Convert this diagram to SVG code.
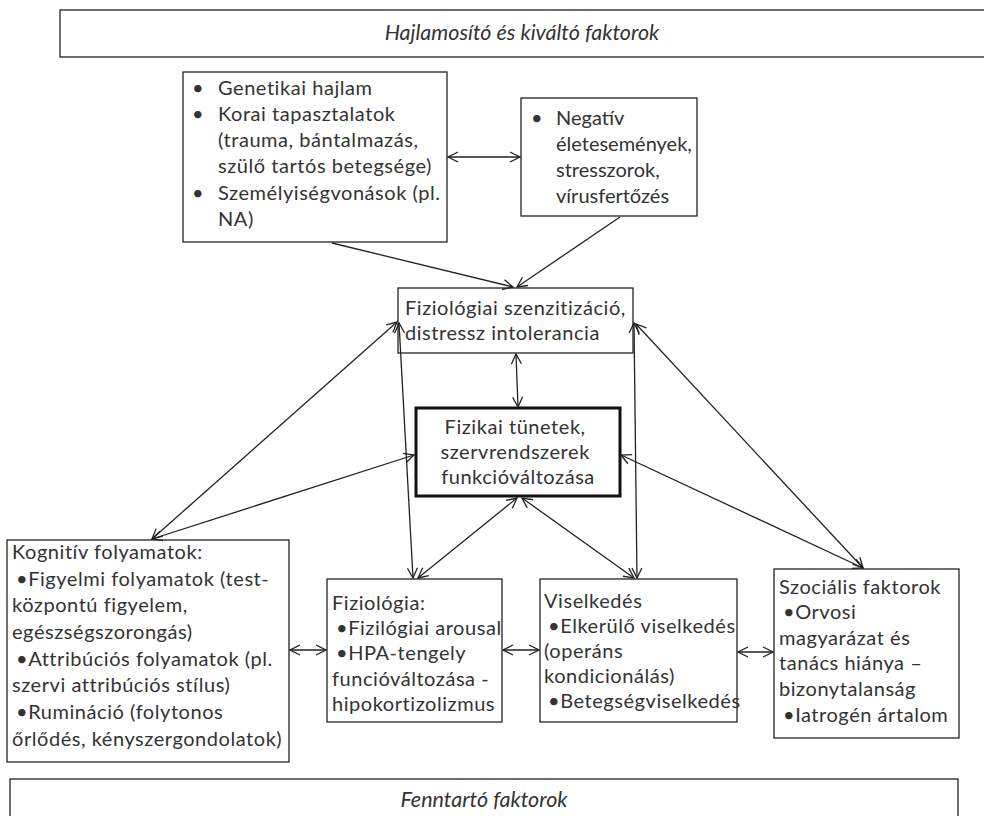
<svg xmlns="http://www.w3.org/2000/svg" width="984" height="816" viewBox="0 0 984 816">
  <style>
    .box { fill: #ffffff; stroke: #222222; stroke-width: 1.3; }
    .thick { fill: #ffffff; stroke: #111111; stroke-width: 3; }
    .t { font-family: Lato, "Open Sans", sans-serif; font-size: 20px; letter-spacing: 0.55px; fill: #333333; }
    .tight { letter-spacing: 0px; }
    .it { font-family: Lato, "Open Sans", sans-serif; font-style: italic; font-size: 21.5px; fill: #333333; }
    .c { text-anchor: middle; }
    .link { fill: none; stroke: #222222; stroke-width: 1.3; marker-start: url(#head); marker-end: url(#head); }
    .one { fill: none; stroke: #222222; stroke-width: 1.3; marker-end: url(#head); }
  </style>
  <defs>
    <marker id="head" viewBox="0 0 12 12" refX="11" refY="6" markerWidth="12" markerHeight="12" markerUnits="userSpaceOnUse" orient="auto-start-reverse">
      <path d="M1,1 L11,6 L1,11" fill="none" stroke="#222222" stroke-width="1.3"/>
    </marker>
  </defs>

  <rect width="984" height="816" fill="#ffffff"/>

  <!-- band: predisposing and triggering factors -->
  <g id="band-top">
    <rect class="box" x="60" y="10" width="940" height="47"/>
    <text class="it c" x="522" y="40">Hajlamosító és kiváltó faktorok</text>
  </g>

  <!-- band: maintaining factors -->
  <g id="band-bottom">
    <rect class="box" x="10" y="779" width="948" height="60"/>
    <text class="it c" x="484" y="807">Fenntartó faktorok</text>
  </g>

  <g id="predisposition">
    <rect class="box" x="183" y="72" width="264" height="170"/>
    <text class="t">
      <tspan x="192" y="95">•</tspan><tspan x="218" y="95">Genetikai hajlam</tspan>
      <tspan x="192" y="121">•</tspan><tspan x="218" y="121">Korai tapasztalatok</tspan>
      <tspan x="218" y="147">(trauma, bántalmazás,</tspan>
      <tspan x="218" y="173">szülő tartós betegsége)</tspan>
      <tspan x="192" y="200">•</tspan><tspan x="218" y="200">Személyiségvonások (pl.</tspan>
      <tspan x="218" y="226">NA)</tspan>
    </text>
  </g>

  <g id="life-events">
    <rect class="box" x="521" y="98" width="176" height="118"/>
    <text class="t tight">
      <tspan x="531" y="125">•</tspan><tspan x="556" y="125">Negatív</tspan>
      <tspan x="556" y="151">életesemények,</tspan>
      <tspan x="556" y="177">stresszorok,</tspan>
      <tspan x="556" y="203">vírusfertőzés</tspan>
    </text>
  </g>

  <g id="sensitization">
    <rect class="box" x="398" y="288" width="235" height="65"/>
    <text class="t">
      <tspan x="405" y="315">Fiziológiai szenzitizáció,</tspan>
      <tspan x="405" y="340">distressz intolerancia</tspan>
    </text>
  </g>

  <g id="symptoms">
    <rect class="thick" x="416" y="408" width="204" height="88"/>
    <text class="t c">
      <tspan x="518" y="434">Fizikai tünetek,</tspan>
      <tspan x="518" y="459">szervrendszerek</tspan>
      <tspan x="518" y="484">funkcióváltozása</tspan>
    </text>
  </g>

  <g id="cognitive">
    <rect class="box" x="7" y="540" width="282" height="222"/>
    <text class="t">
      <tspan x="12" y="559">Kognitív folyamatok:</tspan>
      <tspan x="16" y="586">•Figyelmi folyamatok (test-</tspan>
      <tspan x="12" y="612">központú  figyelem,</tspan>
      <tspan x="12" y="639">egészségszorongás)</tspan>
      <tspan x="16" y="666">•Attribúciós folyamatok (pl.</tspan>
      <tspan x="12" y="692">szervi attribúciós stílus)</tspan>
      <tspan x="16" y="719">•Rumináció (folytonos</tspan>
      <tspan x="12" y="746">őrlődés, kényszergondolatok)</tspan>
    </text>
  </g>

  <g id="physiology">
    <rect class="box" x="327" y="579" width="175" height="143"/>
    <text class="t">
      <tspan x="332" y="610">Fiziológia:</tspan>
      <tspan x="336" y="635">•Fizilógiai arousal</tspan>
      <tspan x="336" y="660">•HPA-tengely</tspan>
      <tspan x="332" y="686">funcióváltozása -</tspan>
      <tspan x="332" y="711">hipokortizolizmus</tspan>
    </text>
  </g>

  <g id="behaviour">
    <rect class="box" x="540" y="579" width="197" height="143"/>
    <text class="t">
      <tspan x="544" y="608">Viselkedés</tspan>
      <tspan x="548" y="633">•Elkerülő viselkedés</tspan>
      <tspan x="544" y="658">(operáns</tspan>
      <tspan x="544" y="683">kondicionálás)</tspan>
      <tspan x="548" y="708">•Betegségviselkedés</tspan>
    </text>
  </g>

  <g id="social">
    <rect class="box" x="774" y="569" width="185" height="169"/>
    <text class="t">
      <tspan x="779" y="594">Szociális faktorok</tspan>
      <tspan x="783" y="619">•Orvosi</tspan>
      <tspan x="779" y="645">magyarázat és</tspan>
      <tspan x="779" y="670">tanács hiánya –</tspan>
      <tspan x="779" y="696">bizonytalanság</tspan>
      <tspan x="783" y="722">•Iatrogén ártalom</tspan>
    </text>
  </g>

  <!-- connectors -->
  <g id="connectors">
    <line class="link" x1="448" y1="157" x2="520" y2="157"/>
    <line class="one" x1="332" y1="243" x2="513" y2="287"/>
    <line class="one" x1="620" y1="217" x2="517" y2="287"/>
    <line class="link" x1="516" y1="354" x2="518" y2="407"/>
    <line class="link" x1="152" y1="539" x2="397" y2="322"/>
    <line class="link" x1="152" y1="539" x2="414" y2="455"/>
    <line class="link" x1="399" y1="323" x2="413" y2="578"/>
    <line class="link" x1="634" y1="323" x2="637" y2="578"/>
    <line class="link" x1="863" y1="568" x2="636" y2="324"/>
    <line class="link" x1="863" y1="568" x2="621" y2="455"/>
    <line class="link" x1="517" y1="498" x2="418" y2="578"/>
    <line class="link" x1="522" y1="498" x2="634" y2="578"/>
    <line class="link" x1="290" y1="650" x2="326" y2="650"/>
    <line class="link" x1="503" y1="650" x2="539" y2="650"/>
    <line class="link" x1="738" y1="652" x2="773" y2="652"/>
  </g>
</svg>
